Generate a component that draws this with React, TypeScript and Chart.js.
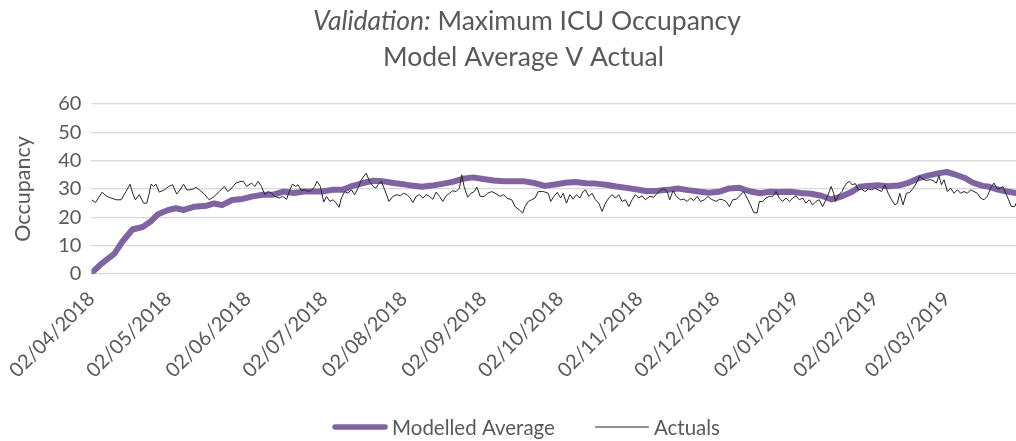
import React, { useEffect, useRef } from 'react';
import { Chart, registerables } from 'chart.js';

Chart.register(...registerables);

const FONT = 'Lato, "Liberation Sans", sans-serif';
const TEXT_COLOR = '#595959';

const TITLE_ITALIC = 'Validation:';
const TITLE_REST = ' Maximum ICU Occupancy';
const SUBTITLE = 'Model Average V Actual';
const Y_TITLE = 'Occupancy';
const SERIES_NAMES = ['Modelled Average', 'Actuals'];
const SERIES_COLORS = ['#8064A2', '#262626'];

// x = days since 02/04/2018
const MONTH_TICK_DAYS = [0, 30, 61, 91, 122, 153, 183, 214, 244, 275, 306, 334];
const MONTH_TICK_LABELS = [
  '02/04/2018', '02/05/2018', '02/06/2018', '02/07/2018', '02/08/2018', '02/09/2018',
  '02/10/2018', '02/11/2018', '02/12/2018', '02/01/2019', '02/02/2019', '02/03/2019',
];
const X_MAX_DAY = 361;
const Y_MIN = 0;
const Y_MAX = 60;
const Y_STEP = 10;

// [day, occupancy]
const MODEL: [number, number][] = [
  [0, 0.3], [4, 3.7], [9, 7.2], [12, 11.3], [16, 15.7], [20, 16.6], [23, 18.4], [26, 21.1],
  [30, 22.6], [33, 23.2], [36, 22.6], [40, 23.7], [45, 24.1], [48, 24.9], [51, 24.3], [55, 26.1],
  [59, 26.5], [63, 27.4], [67, 28], [71, 28], [75, 29.1], [79, 28.6], [83, 29.1], [87, 29.1],
  [90, 29.1], [94, 29.7], [98, 29.7], [102, 31.1], [106, 32.1], [110, 32.9], [114, 32.7], [118, 32.1],
  [121, 31.8], [125, 31.2], [129, 30.8], [133, 31.2], [137, 31.8], [141, 32.5], [145, 33.6], [149, 34.1],
  [153, 33.5], [157, 33], [161, 32.7], [165, 32.7], [169, 32.7], [173, 32.1], [177, 31.1], [181, 31.6],
  [185, 32.2], [189, 32.5], [193, 32], [197, 31.9], [201, 31.5], [205, 30.9], [209, 30.4], [213, 29.8],
  [217, 29.2], [221, 29.4], [225, 29.7], [229, 30.2], [233, 29.6], [237, 29.1], [241, 28.7], [245, 29],
  [249, 30.2], [253, 30.4], [257, 29.2], [261, 28.5], [265, 29], [269, 28.9], [273, 29], [277, 28.6],
  [281, 28.3], [285, 27.6], [289, 26.3], [293, 27.4], [297, 29], [300, 30.8], [303, 31.1], [307, 31.3],
  [311, 31], [315, 31.2], [319, 32.2], [323, 33.8], [327, 34.8], [331, 35.6], [334, 36], [337, 35.2],
  [341, 33.9], [344, 32.3], [348, 31.1], [350, 30.9], [353, 30], [357, 29.2], [361, 28.6],
];

// [day, occupancy]
const ACTUALS: [number, number][] = [
  [0, 26.2], [1.6, 25.2], [4.2, 28.9], [5.7, 27.6], [7.7, 26.8], [9.6, 26.2], [11.6, 26.2], [13.5, 29.1],
  [15.1, 31.7], [16.1, 28.5], [17.2, 26.2], [18.7, 28], [20.4, 25], [21.6, 25], [22.6, 28.5], [23.3, 31.7],
  [24.3, 30.9], [25.2, 31.7], [26.5, 28.9], [28.5, 29.7], [30.2, 30.9], [31.7, 31.5], [33.3, 28.2], [34.6, 29.7],
  [36, 31.7], [37.2, 29.7], [38.2, 29.7], [39.8, 30], [40.8, 30.6], [42.1, 29.7], [44.1, 28.2], [46, 26.2],
  [48, 27.4], [49.9, 29.1], [51.9, 30.9], [53.2, 29.1], [54.5, 30], [56.4, 32.1], [58.4, 32.7],
  [59.3, 32.7], [60.6, 30.9], [62.5, 32.1], [63.8, 30.9], [65.1, 32.7], [66.4, 30.9], [67.7, 28], [69, 29.1],
  [70.3, 28.5], [71.6, 27.4], [73.3, 26.8], [74.6, 27.4], [76.2, 26.4], [77.5, 29.7], [78.5, 31.7], [79.8, 30.9],
  [80.7, 31.5], [82, 29.5], [83.3, 29.7], [84.6, 29.1], [85.9, 29.5], [87.2, 30.9], [88.1, 32.7], [89.4, 30.9],
  [90.7, 25.4], [91.8, 27.4], [93.1, 25.6], [94.4, 26.2], [95.6, 25], [96.7, 23.5], [97.6, 26.8], [98.9, 29.1],
  [100.2, 28.5], [101.5, 29.7], [102.8, 28], [104.1, 30.3], [105.4, 33.3], [107.3, 35.6], [108.6, 32.7], [110, 30.9],
  [111, 30.3], [111.9, 31.5], [113.2, 32.7], [114.5, 29.7], [116.2, 25.6], [117.7, 27.4],
  [119.3, 28], [120.6, 27.6], [121.9, 28.5], [123.2, 28], [124.5, 26.8], [125.5, 25.2], [126.8, 27.4], [128.1, 28],
  [129.4, 26.8], [130.7, 28], [132, 27.4], [133.3, 26.4], [134.6, 28.9], [135.9, 27.4], [137.2, 25.6], [138.5, 27.6],
  [139.8, 28.5], [141.1, 29.4], [142.4, 29.1], [143.7, 30.3], [144.6, 35], [145.5, 30.9], [146.9, 27.1], [148.2, 28.5],
  [149.5, 29.1], [150.5, 30.7], [151.8, 27.4], [153.4, 27.4], [154.7, 28.5], [156.3, 29.1], [157.6, 28.5], [159.6, 27.4],
  [160.9, 28], [162.2, 26.8], [164.1, 26.2], [165.4, 23.8], [167.1, 22.6], [168.4, 21.5], [169.3, 23.8], [170.6, 25.6],
  [171.9, 26.2], [173.2, 26.8], [174.5, 29.1], [176.5, 29.1], [178.4, 28.5],
  [179.3, 25.6], [180.6, 27.4], [181.9, 28.8], [183.2, 26.8], [184.2, 28.5], [185.5, 25], [186.8, 28], [188.1, 26.4],
  [189.4, 28], [190.7, 26.8], [192, 29.1], [192.9, 29.7], [194.2, 27.4], [195.5, 28.5], [196.8, 26.2], [198.1, 25],
  [199.4, 22.1], [200.7, 25], [202, 26.8], [203.3, 28], [204.6, 26.8], [205.9, 28], [207.2, 25.6], [208.5, 26.2],
  [209.8, 23.8], [211.1, 26.2], [212.4, 28], [213.7, 26.8], [215, 27.6], [216.3, 26.2], [218, 27.4], [219.6, 27.1],
  [220.9, 28.5], [222.2, 29.5], [223.5, 30.1], [224.8, 29.1], [225.8, 26.2], [227.1, 29.4], [228.4, 27.4], [230, 26.2],
  [231.3, 26.4], [232.6, 25.6], [233.9, 26.8], [235.2, 25.9], [236.5, 27.4], [237.8, 25.6],
  [239.4, 26.2], [240.7, 27.4], [242, 26.4], [243.9, 25.6], [245.2, 26.4], [246.5, 26.2], [247.8, 25.6], [249.1, 23.8],
  [250.4, 26.2], [251.7, 26.4], [253, 27.4], [254.7, 29.1], [256, 26.8], [257.3, 24.4], [258.6, 21.7], [259.9, 21.5],
  [260.8, 25.6], [262.1, 25.6], [263.4, 26.8], [264.7, 27.4], [266, 27.4], [267.3, 29.1], [268.6, 26.8], [269.9, 25.6],
  [271.2, 26.8], [272.5, 25.6], [273.8, 26.8], [275.1, 27.6], [276.4, 26.2], [277.7, 26.8], [279, 25], [280.3, 26.2],
  [281.6, 24.4], [282.9, 25.6], [284.2, 26.2], [285.5, 23.8], [286.8, 26.2], [288.1, 29.1], [288.8, 30.9], [289.8, 28.5],
  [290.5, 25.6], [291.8, 28], [293.1, 29.1], [294, 30.9], [295, 32.1], [295.9, 32.7], [297, 31.5], [298.3, 31.9],
  [299.4, 29.7], [300.7, 30], [302, 29.1], [303.3, 30], [304.6, 29.7], [305.9, 30.3], [307.2, 29.7], [308.5, 29.1],
  [309.8, 31.5], [311.1, 28.5], [312.4, 26.2], [313.7, 24.4], [314.7, 25], [315.6, 28.5], [316.9, 24.4], [318.2, 28.5],
  [319.5, 28.8], [320.9, 30.3], [322.1, 32.1], [323.4, 34.5], [324.7, 33.5], [326, 33], [327.3, 33.3], [328.6, 33],
  [329.9, 32.1], [330.9, 34.7], [331.9, 31.5], [332.9, 33.3], [334.2, 29.1], [335.5, 30.3], [336.8, 28.5], [338.1, 29.7],
  [339.4, 28.5], [340.7, 29.1], [342, 28.5], [343.3, 29.7], [344.6, 29.1], [345.9, 28.5], [347.2, 26.8], [348.5, 26.2],
  [349.8, 27.4], [351.1, 30.3], [352.4, 32.1], [353.7, 30], [355, 30.3], [355.9, 30.9], [357, 28.5], [358.1, 26.2],
  [359.2, 23.8], [360.5, 23.8], [361, 25],
];

const textPlugin = {
  id: 'customText',
  afterDraw(chart: any) {
    const ctx = chart.ctx as CanvasRenderingContext2D;
    ctx.save();
    ctx.fillStyle = TEXT_COLOR;
    ctx.textBaseline = 'middle';
    ctx.textAlign = 'left';
    const cx = 527;
    const italicFont = `italic 26.5px ${FONT}`;
    const normalFont = `26.5px ${FONT}`;
    ctx.font = italicFont;
    const w1 = ctx.measureText(TITLE_ITALIC).width;
    ctx.font = normalFont;
    const w2 = ctx.measureText(TITLE_REST).width;
    const x0 = cx - (w1 + w2) / 2;
    ctx.font = italicFont;
    ctx.fillText(TITLE_ITALIC, x0, 21);
    ctx.font = normalFont;
    ctx.fillText(TITLE_REST, x0 + w1, 21);
    ctx.textAlign = 'center';
    ctx.fillText(SUBTITLE, 523.5, 57);

    // legend
    const lf = `20.5px ${FONT}`;
    ctx.font = lf;
    const lineLen = 54;
    const gapText = 5;
    const gapItem = 40;
    const widths = SERIES_NAMES.map((n) => lineLen + gapText + ctx.measureText(n).width);
    const total = widths[0] + gapItem + widths[1];
    let x = 526.5 - total / 2;
    const y = 427;
    ctx.textAlign = 'left';
    SERIES_NAMES.forEach((name, i) => {
      ctx.beginPath();
      ctx.strokeStyle = SERIES_COLORS[i];
      ctx.lineWidth = i === 0 ? 5.5 : 1;
      ctx.lineCap = i === 0 ? 'round' : 'butt';
      ctx.moveTo(x + (i === 0 ? 2 : 0), y);
      ctx.lineTo(x + lineLen - (i === 0 ? 2 : 0), y);
      ctx.stroke();
      ctx.fillStyle = TEXT_COLOR;
      ctx.fillText(name, x + lineLen + gapText, y + 1);
      x += widths[i] + gapItem;
    });
    ctx.restore();
  },
};

export default function App() {
  const canvasRef = useRef<HTMLCanvasElement | null>(null);

  useEffect(() => {
    document.body.style.margin = '0';
    const canvas = canvasRef.current;
    if (!canvas) return;
    const chart = new Chart(canvas, {
      type: 'line',
      data: {
        datasets: [
          {
            label: SERIES_NAMES[0],
            data: MODEL.map(([x, y]) => ({ x, y })),
            borderColor: SERIES_COLORS[0],
            backgroundColor: SERIES_COLORS[0],
            borderWidth: 6,
            pointRadius: 0,
            borderCapStyle: 'round',
            borderJoinStyle: 'round',
            tension: 0,
            order: 1,
          },
          {
            label: SERIES_NAMES[1],
            data: ACTUALS.map(([x, y]) => ({ x, y })),
            borderColor: SERIES_COLORS[1],
            backgroundColor: SERIES_COLORS[1],
            borderWidth: 1,
            pointRadius: 0,
            tension: 0,
            order: 0,
          },
        ],
      },
      options: {
        animation: false,
        responsive: true,
        maintainAspectRatio: false,
        layout: { padding: { top: 104, bottom: 57, left: 0, right: 0 } },
        plugins: {
          legend: { display: false },
          title: { display: false },
          tooltip: { enabled: false },
        },
        scales: {
          x: {
            type: 'linear',
            min: 0,
            max: X_MAX_DAY,
            afterBuildTicks: (axis: any) => {
              axis.ticks = MONTH_TICK_DAYS.map((v) => ({ value: v }));
            },
            afterFit: (scale: any) => {
              scale.height = 110;
            },
            grid: { display: false, drawTicks: false },
            border: { display: false },
            ticks: {
              autoSkip: false,
              minRotation: 45,
              maxRotation: 45,
              padding: 13,
              color: TEXT_COLOR,
              font: { family: FONT, size: 20 },
              callback: (value: any) => {
                const idx = MONTH_TICK_DAYS.indexOf(Number(value));
                return idx >= 0 ? MONTH_TICK_LABELS[idx] : '';
              },
            },
          },
          y: {
            min: Y_MIN,
            max: Y_MAX,
            afterFit: (scale: any) => {
              scale.width = 90;
            },
            ticks: {
              stepSize: Y_STEP,
              padding: 10,
              color: TEXT_COLOR,
              font: { family: FONT, size: 20 },
            },
            grid: { color: '#d9d9d9', lineWidth: 1.3, drawTicks: false },
            border: { display: false },
            title: {
              display: true,
              text: Y_TITLE,
              color: TEXT_COLOR,
              font: { family: FONT, size: 21.5 },
              padding: { top: 9, bottom: 0 },
            },
          },
        },
      },
      plugins: [textPlugin],
    } as any);
    return () => chart.destroy();
  }, []);

  return (
    <div style={{ width: 1016, height: 441, position: 'relative' }}>
      <canvas ref={canvasRef} />
    </div>
  );
}
